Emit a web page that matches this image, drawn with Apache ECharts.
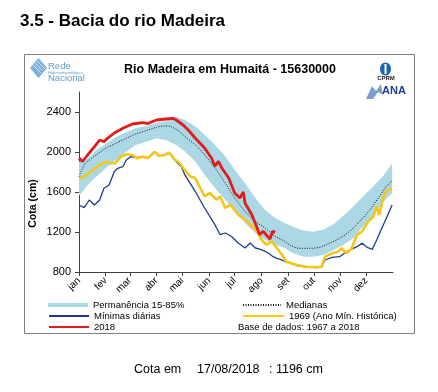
<!DOCTYPE html>
<html>
<head>
<meta charset="utf-8">
<script src="https://cdn.jsdelivr.net/npm/echarts@6/dist/echarts.min.js"></script>
<style>
  html, body { margin: 0; padding: 0; background: #fff; }
  #chart { width: 438px; height: 392px; }
</style>
</head>
<body>
<div id="chart"></div>
<script>
// ---- data ----
const months = ['jan','fev','mar','abr','mai','jun','jul','ago','set','out','nov','dez'];
const monthStartDays = [0,31,59,90,120,151,181,212,243,273,304,334];
const yTicks = [800,1200,1600,2000,2400];

// Permanência 15-85% band (day of year, upper and lower edge, cm)
const bandDays = [0,10,20,31,43,55,66,78,90,101,113,123,135,146,158,170,181,193,205,216,228,239,249,261,272,284,296,307,319,330,342,354,364];
const bandTop  = [1900,1930,2020,2080,2150,2200,2240,2260,2290,2310,2355,2320,2257,2173,2073,1957,1823,1690,1540,1423,1340,1290,1253,1215,1203,1225,1280,1360,1455,1555,1655,1765,1887];
const bandBot  = [1560,1670,1753,1837,1920,2003,2070,2103,2137,2120,2070,2007,1907,1773,1640,1523,1407,1290,1190,1123,1073,1040,987,953,953,970,1020,1070,1137,1253,1370,1503,1587];

// Medianas
const medDays = [0,6,12,20,31,43,55,66,78,90,99,107,117,125,135,146,158,170,181,193,205,216,228,239,245,256,268,280,291,303,314,326,338,349,357,364];
const medVals = [1753,1870,1920,1970,2037,2087,2137,2180,2213,2247,2260,2253,2203,2140,2073,1973,1840,1690,1540,1407,1307,1240,1157,1107,1070,1037,1037,1047,1087,1137,1203,1303,1420,1553,1653,1713];

// Mínimas diárias
const minDays = [0,6,12,18,24,29,35,41,45,51,55,60,66,74,80,88,93,99,105,109,113,119,123,135,146,158,164,170,177,185,193,199,205,212,220,225,230,234,241,253,264,276,282,286,294,303,311,323,329,335,341,346,352,358,364];
const minVals = [1470,1443,1520,1470,1520,1637,1670,1803,1837,1853,1920,1953,1943,1953,1940,2003,1960,1970,1993,1953,1903,1853,1773,1607,1440,1273,1173,1190,1157,1090,1040,1090,1040,1023,990,957,937,927,900,865,850,843,850,920,947,953,1003,1053,1087,1047,1027,1120,1237,1353,1470];

// 1969 (Ano Mín. Histórica)
const y1969Days = [0,6,16,24,31,37,42,49,55,62,68,74,80,88,93,99,105,111,117,123,129,135,141,146,152,160,164,170,176,185,193,201,207,212,218,224,230,236,241,253,264,276,282,286,294,301,305,311,317,323,329,336,342,346,349,354,358,364];
const y1969Vals = [1737,1753,1820,1870,1903,1887,1887,1953,1977,1970,1937,1953,1940,2003,1960,1970,1993,1927,1887,1820,1757,1740,1640,1557,1590,1523,1557,1440,1473,1373,1323,1257,1207,1123,1073,1107,1040,973,903,870,853,847,853,953,987,1003,1037,987,1037,1170,1203,1303,1353,1453,1370,1553,1620,1627];

// 2018
const y2018Days = [0,4,10,18,24,29,33,41,51,62,74,80,90,101,109,113,121,127,135,146,154,158,162,166,174,181,187,191,193,201,207,210,214,222,225,228];
const y2018Vals = [1940,1905,1970,2053,2120,2103,2137,2190,2237,2280,2293,2285,2320,2330,2337,2320,2270,2220,2140,2040,1940,1857,1907,1840,1740,1590,1540,1600,1487,1373,1240,1173,1207,1130,1207,1196];

// ---- chart ----
const FONT = '"Liberation Sans", Arial, sans-serif';
const NARROW = '"Liberation Sans Narrow", "Arial Narrow", "Liberation Sans", sans-serif';
const zip = (a, b) => a.map((d, i) => [d, b[i]]);

const C_BAND = '#acd8e5', C_RED = '#e31b1b', C_YEL = '#f5c518', C_BLUE = '#1d3c8c';

const chart = echarts.init(document.getElementById('chart'), null, { renderer: 'canvas' });

function legendAt(name, left, cy, w, h, extra) {
  return Object.assign({
    data: [name], left: left, top: cy - 5.5, padding: 0, itemWidth: w, itemHeight: h,
    selectedMode: false, itemStyle: { opacity: 0 },
    textStyle: { fontFamily: FONT, fontSize: 9.5, lineHeight: 11, color: '#000', padding: 0 }
  }, extra || {});
}

const option = {
  backgroundColor: '#fff',
  animation: false,
  textStyle: { fontFamily: FONT },
  grid: { left: 79, top: 92, right: 45, bottom: 120, containLabel: false },
  xAxis: {
    type: 'value', min: 0, max: 365,
    axisLine: { show: true, onZero: false, lineStyle: { color: '#404040', width: 1 } },
    axisTick: { show: true, customValues: monthStartDays, length: 4, lineStyle: { color: '#404040' } },
    axisLabel: {
      customValues: monthStartDays,
      formatter: v => months[monthStartDays.indexOf(v)],
      rotate: 45, margin: 7, fontSize: 10, color: '#000', fontFamily: FONT
    },
    splitLine: { show: false }
  },
  yAxis: {
    type: 'value', min: 800, max: 2600, interval: 400,
    axisLine: { show: true, lineStyle: { color: '#404040', width: 1 } },
    axisTick: { show: true, customValues: yTicks, length: 4, lineStyle: { color: '#404040' } },
    axisLabel: { customValues: yTicks, formatter: v => String(v), fontSize: 11, margin: 8, color: '#000', fontFamily: FONT },
    splitLine: { show: false }
  },
  legend: [
    legendAt({ name: 'Permanência 15-85%', icon: 'rect', itemStyle: { color: C_BAND, opacity: 1 } }, 48, 305, 40, 4),
    legendAt('Mínimas diárias', 48, 316, 40, 6),
    legendAt('2018', 48, 327, 40, 6),
    legendAt('Medianas', 242, 305, 38, 6),
    legendAt('1969 (Ano Mín. Histórica)', 242, 316, 41, 6)
  ],
  series: [
    {
      name: 'Permanência 15-85%', type: 'custom', coordinateSystem: 'cartesian2d',
      itemStyle: { color: C_BAND }, clip: true, silent: true,
      data: [[bandDays[0], bandTop[0]]],
      renderItem: function (params, api) {
        const pts = [];
        for (let i = 0; i < bandDays.length; i++) pts.push(api.coord([bandDays[i], bandTop[i]]));
        for (let i = bandDays.length - 1; i >= 0; i--) pts.push(api.coord([bandDays[i], bandBot[i]]));
        return { type: 'polygon', shape: { points: pts }, style: { fill: C_BAND } };
      },
      z: 1
    },
    {
      name: 'Medianas', type: 'line', data: zip(medDays, medVals), symbol: 'none', smooth: 0.3,
      lineStyle: { color: '#111', width: 1, type: [1, 1.5] }, itemStyle: { color: '#111' }, z: 2
    },
    {
      name: 'Mínimas diárias', type: 'line', data: zip(minDays, minVals), symbol: 'none',
      lineStyle: { color: C_BLUE, width: 1.3 }, itemStyle: { color: C_BLUE }, z: 3
    },
    {
      name: '1969 (Ano Mín. Histórica)', type: 'line', data: zip(y1969Days, y1969Vals), symbol: 'none',
      lineStyle: { color: C_YEL, width: 2.6 }, itemStyle: { color: C_YEL }, z: 4
    },
    {
      name: '2018', type: 'line', data: zip(y2018Days, y2018Vals), symbol: 'none',
      lineStyle: { color: C_RED, width: 2.8 }, itemStyle: { color: C_RED }, z: 5
    }
  ],
  graphic: [
    // frame
    { type: 'rect', shape: { x: 24.5, y: 54.5, width: 390, height: 279 },
      style: { fill: 'none', stroke: '#7f7f7f', lineWidth: 1 }, silent: true, z: -1 },
    // page heading
    { type: 'text', x: 20, y: 21, style: { text: '3.5 - Bacia do rio Madeira', font: 'bold 17px ' + FONT, fill: '#000', verticalAlign: 'middle' } },
    // chart title
    { type: 'text', x: 230, y: 69.5, style: { text: 'Rio Madeira em Humaitá - 15630000', font: 'bold 12.5px ' + FONT, fill: '#000', align: 'center', verticalAlign: 'middle' } },
    // y axis name
    { type: 'text', x: 33, y: 203.5, rotation: Math.PI / 2,
      style: { text: 'Cota (cm)', font: 'bold 10.5px ' + FONT, fill: '#000', align: 'center', verticalAlign: 'middle' } },
    // Rede Hidrometeorológica Nacional logo
    { type: 'polygon', shape: { points: [[38.5, 58], [47, 68], [38.5, 78], [30, 68]] }, style: { fill: '#7fb0d8' } },
    { type: 'polyline', shape: { points: [[33, 65], [41, 73]] }, style: { stroke: '#e6f0f8', lineWidth: 0.8 } },
    { type: 'polyline', shape: { points: [[35, 63], [43, 71]] }, style: { stroke: '#e6f0f8', lineWidth: 0.8 } },
    { type: 'polyline', shape: { points: [[37, 61], [45, 69]] }, style: { stroke: '#e6f0f8', lineWidth: 0.8 } },
    { type: 'text', x: 48, y: 66, style: { text: 'Rede', font: '9.5px ' + NARROW, fill: '#5d9ccf', verticalAlign: 'middle' } },
    { type: 'text', x: 48, y: 72.5, style: { text: 'Hidrometeorológica', font: '4px ' + NARROW, fill: '#5d9ccf', verticalAlign: 'middle' } },
    { type: 'text', x: 48, y: 78.5, style: { text: 'Nacional', font: '9.5px ' + NARROW, fill: '#5d9ccf', verticalAlign: 'middle' } },
    // CPRM logo
    { type: 'ellipse', shape: { cx: 385.5, cy: 69, rx: 5.5, ry: 6.5 }, style: { fill: '#1d63b5' } },
    { type: 'rect', shape: { x: 384.5, y: 64, width: 2, height: 10 }, style: { fill: '#fff' } },
    { type: 'text', x: 386, y: 78.5, style: { text: 'CPRM', font: 'bold 6px ' + FONT, fill: '#1a1a1a', align: 'center', verticalAlign: 'middle' } },
    // ANA logo
    { type: 'polygon', shape: { points: [[366, 99], [372, 86], [376, 91], [381, 84], [383, 95], [378, 92], [373, 99]] }, style: { fill: '#7d9fcc' } },
    { type: 'text', x: 382, y: 91, style: { text: 'ANA', font: 'bold 11px ' + FONT, fill: '#1f3f8f', verticalAlign: 'middle' } },
    // legend note
    { type: 'text', x: 238, y: 327, style: { text: 'Base de dados: 1967 a 2018', font: '9.5px ' + FONT, fill: '#000', verticalAlign: 'middle' } },
    // bottom caption
    { type: 'text', x: 134, y: 370, style: { text: 'Cota em', font: '12.5px ' + FONT, fill: '#000', verticalAlign: 'middle' } },
    { type: 'text', x: 197, y: 370, style: { text: '17/08/2018', font: '12.5px ' + FONT, fill: '#000', verticalAlign: 'middle' } },
    { type: 'text', x: 269, y: 370, style: { text: ': 1196 cm', font: '12.5px ' + FONT, fill: '#000', verticalAlign: 'middle' } }
  ]
};
chart.setOption(option);
</script>
</body>
</html>
